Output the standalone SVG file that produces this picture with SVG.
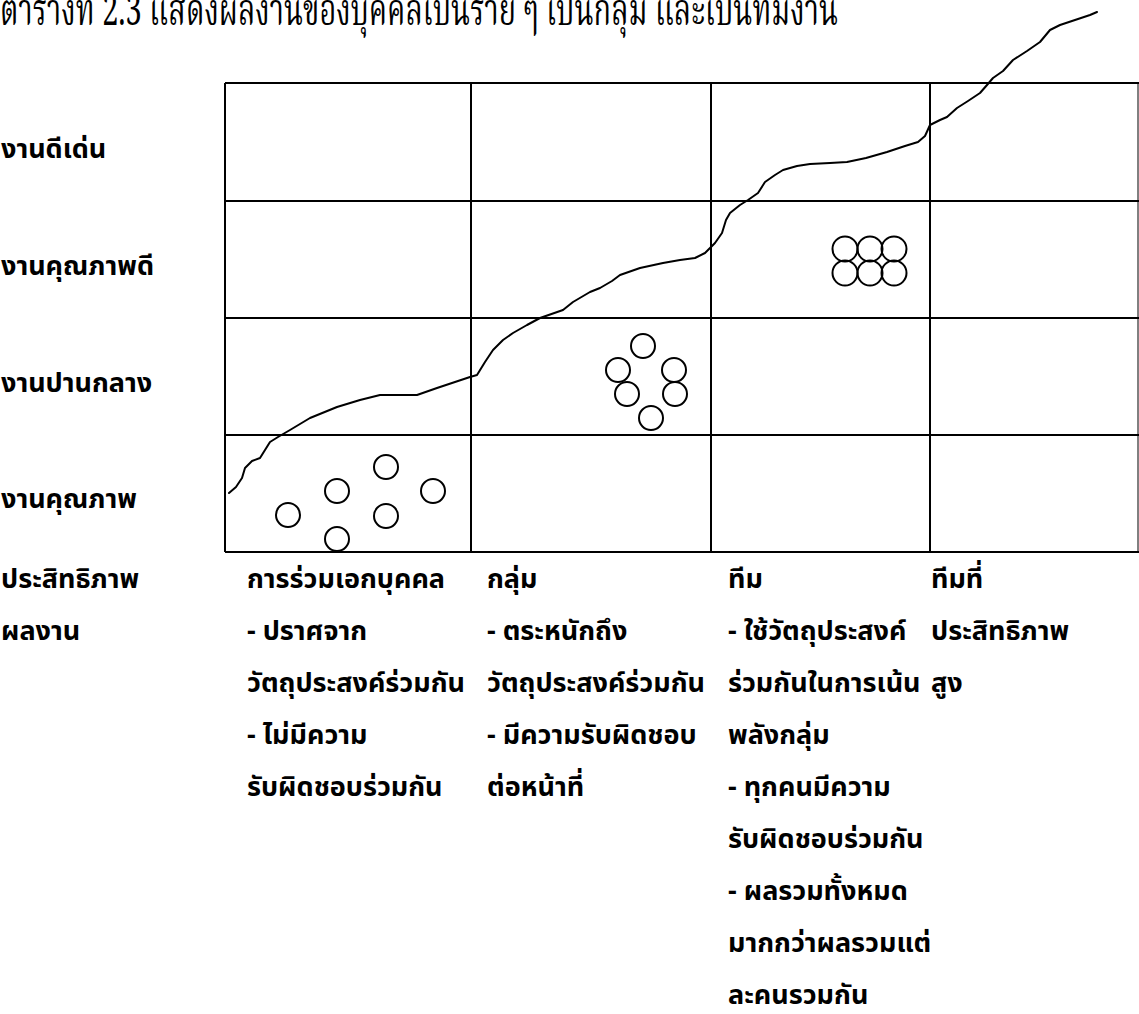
<svg xmlns="http://www.w3.org/2000/svg" width="1139" height="1014" viewBox="0 0 1139 1014">
<style>
.lbl{font-family:"Noto Sans Thai","Noto Sans","DejaVu Sans",sans-serif;font-weight:bold;font-size:27px;fill:#000}
.ttl{font-family:"Noto Serif Thai","Noto Sans Thai","Liberation Serif",serif;font-size:44px;fill:#000}
.grid{stroke:#000;stroke-width:2;fill:none}
.c{stroke:#000;stroke-width:2;fill:none}
.curve{stroke:#000;stroke-width:2;fill:none;stroke-linejoin:round;stroke-linecap:round}
</style>
<rect width="1139" height="1014" fill="#fff"/>
<g id="title"><text class="ttl" x="0" y="25" textLength="838" lengthAdjust="spacingAndGlyphs">ตารางที่ 2.3 แสดงผลงานของบุคคลเป็นราย ๆ เป็นกลุ่ม และเป็นทีมงาน</text></g>
<g id="grid" class="grid">
<line x1="225" y1="83" x2="1139" y2="83"/>
<line x1="225" y1="201" x2="1139" y2="201"/>
<line x1="225" y1="318" x2="1139" y2="318"/>
<line x1="225" y1="435" x2="1139" y2="435"/>
<line x1="225" y1="552" x2="1139" y2="552"/>
<line x1="225" y1="83" x2="225" y2="552"/>
<line x1="471" y1="83" x2="471" y2="552"/>
<line x1="711" y1="83" x2="711" y2="552"/>
<line x1="930" y1="83" x2="930" y2="552"/>
<line x1="1138" y1="83" x2="1138" y2="552" stroke-width="1"/>
</g>
<g id="connectors">
<polyline class="curve" points="229,493 236,487 242,478 245,468 252,461 260,458 265,450 270,442 278,437 290,430 310,418 337,407 360,400 380,395 400,395 417,395 437,388 455,382 470,377 477,375 485,362 493,350 503,340 513,333 527,325 540,318 563,310 573,302 590,292 600,288 612,281 620,275 640,268 663,263 680,260 695,258 705,253 710,248 715,243 722,233 726,220 730,213 740,205 748,200 758,193 765,182 775,175 783,170 797,166 810,164 830,163 847,162 866,158 887,152 905,146 918,142 925,136 930,125 940,120 947,117 957,108 968,101 980,93 987,85 993,78 1003,71 1013,60 1027,51 1040,42 1050,30 1060,25 1075,20 1090,15 1097,12"/>
</g>
<g id="individuals">
<circle class="c" cx="288" cy="515" r="12"/>
<circle class="c" cx="337" cy="491" r="12"/>
<circle class="c" cx="386" cy="467" r="12"/>
<circle class="c" cx="433" cy="491" r="12"/>
<circle class="c" cx="386" cy="516" r="12"/>
<circle class="c" cx="337" cy="539" r="12"/>
</g>
<g id="group">
<circle class="c" cx="643" cy="346" r="12"/>
<circle class="c" cx="618" cy="370" r="12"/>
<circle class="c" cx="674" cy="370" r="12"/>
<circle class="c" cx="627" cy="394" r="12"/>
<circle class="c" cx="675" cy="394" r="12"/>
<circle class="c" cx="651" cy="418" r="12"/>
</g>
<g id="team">
<circle class="c" cx="845" cy="249" r="12.5"/>
<circle class="c" cx="870" cy="249" r="12.5"/>
<circle class="c" cx="894" cy="249" r="12.5"/>
<circle class="c" cx="845" cy="273" r="12.5"/>
<circle class="c" cx="870" cy="273" r="12.5"/>
<circle class="c" cx="894" cy="273" r="12.5"/>
</g>
<g id="row-labels" class="lbl">
<text x="1" y="158">งานดีเด่น</text>
<text x="1" y="275">งานคุณภาพดี</text>
<text x="1" y="392">งานปานกลาง</text>
<text x="1" y="508">งานคุณภาพ</text>
</g>
<g id="col-axis" class="lbl">
<text x="1" y="588">ประสิทธิภาพ</text>
<text x="1" y="640">ผลงาน</text>
</g>
<g id="col-individual" class="lbl">
<text x="247" y="588">การร่วมเอกบุคคล</text>
<text x="247" y="640">-  ปราศจาก</text>
<text x="247" y="692">วัตถุประสงค์ร่วมกัน</text>
<text x="247" y="744">-  ไม่มีความ</text>
<text x="247" y="796">รับผิดชอบร่วมกัน</text>
</g>
<g id="col-group" class="lbl">
<text x="487" y="588">กลุ่ม</text>
<text x="487" y="640">- ตระหนักถึง</text>
<text x="487" y="692">วัตถุประสงค์ร่วมกัน</text>
<text x="487" y="744">- มีความรับผิดชอบ</text>
<text x="487" y="796">ต่อหน้าที่</text>
</g>
<g id="col-team" class="lbl">
<text x="728" y="588">ทีม</text>
<text x="728" y="640">- ใช้วัตถุประสงค์</text>
<text x="728" y="692">ร่วมกันในการเน้น</text>
<text x="728" y="744">พลังกลุ่ม</text>
<text x="728" y="796">- ทุกคนมีความ</text>
<text x="728" y="848">รับผิดชอบร่วมกัน</text>
<text x="728" y="900">- ผลรวมทั้งหมด</text>
<text x="728" y="952">มากกว่าผลรวมแต่</text>
<text x="728" y="1004">ละคนรวมกัน</text>
</g>
<g id="col-effective-team" class="lbl">
<text x="931" y="588">ทีมที่</text>
<text x="931" y="640">ประสิทธิภาพ</text>
<text x="931" y="692">สูง</text>
</g>
</svg>
